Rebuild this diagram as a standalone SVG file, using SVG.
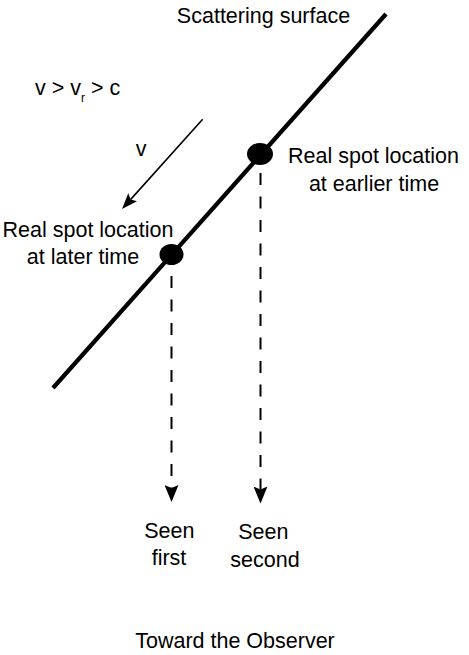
<svg xmlns="http://www.w3.org/2000/svg" width="469" height="655" viewBox="0 0 469 655">
<style>
text{font-family:"Liberation Sans",Arial,sans-serif;font-size:21.5px;fill:#000;text-anchor:middle}
.dash{stroke:#000;stroke-width:2;stroke-dasharray:12 11.5;fill:none}
.spot{fill:#000}
</style>
<defs>
<marker id="headBig" markerUnits="userSpaceOnUse" viewBox="0 0 17 14" markerWidth="17" markerHeight="14" refX="3" refY="7" orient="auto">
<path d="M0,0 L17,7 L0,14 L3,7 Z" fill="#000"/>
</marker>
<marker id="headSmall" markerUnits="userSpaceOnUse" viewBox="0 0 16 12" markerWidth="16" markerHeight="12" refX="3" refY="6" orient="auto">
<path d="M0,0 L16,6 L0,12 L3,6 Z" fill="#000"/>
</marker>
</defs>
<rect width="469" height="655" fill="#fff"/>
<g id="surface">
<line x1="386" y1="14" x2="53" y2="388" stroke="#000" stroke-width="4.2"/>
<text x="263.5" y="22.7">Scattering surface</text>
</g>
<g id="condition">
<text x="35" y="95" style="text-anchor:start">v &gt; v<tspan font-size="12" dy="7">r</tspan><tspan dy="-7"> &gt; c</tspan></text>
</g>
<g id="velocity">
<line x1="202.7" y1="119.3" x2="130.7" y2="199.4" stroke="#000" stroke-width="1.6" marker-end="url(#headSmall)"/>
<text x="141" y="156">v</text>
</g>
<g id="spot-earlier">
<ellipse class="spot" cx="260" cy="154" rx="13" ry="11"/>
<text x="373.5" y="163">Real spot location</text>
<text x="374" y="190.5">at earlier time</text>
</g>
<g id="spot-later">
<ellipse class="spot" cx="171.5" cy="254.5" rx="12" ry="10.5"/>
<text x="88" y="236.5">Real spot location</text>
<text x="83" y="264">at later time</text>
</g>
<g id="connectors">
<line class="dash" x1="171.5" y1="276" x2="171.5" y2="488" marker-end="url(#headBig)"/>
<line class="dash" x1="260.5" y1="173" x2="260.5" y2="489.5" marker-end="url(#headBig)"/>
</g>
<g id="seen-first">
<text x="169.4" y="537.7">Seen</text>
<text x="169" y="565">first</text>
</g>
<g id="seen-second">
<text x="263.3" y="539">Seen</text>
<text x="265" y="566.5">second</text>
</g>
<g id="observer">
<text x="235" y="648">Toward the Observer</text>
</g>
</svg>
